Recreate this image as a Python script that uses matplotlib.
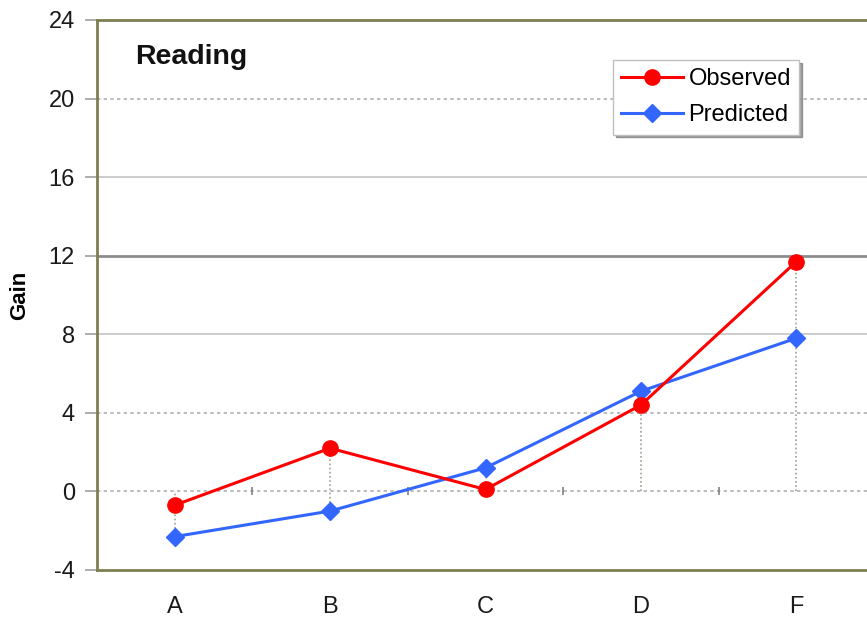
import numpy as np
import matplotlib
matplotlib.use("Agg")
import matplotlib.pyplot as plt
from matplotlib.transforms import IdentityTransform

plt.rcParams['font.family'] = ['Liberation Sans', 'DejaVu Sans']

# Data
categories = ["A", "B", "C", "D", "F"]
observed = [-0.7, 2.2, 0.1, 4.4, 11.7]
predicted = [-2.3, -1.0, 1.2, 5.1, 7.8]
y_ticks = [-4, 0, 4, 8, 12, 16, 20, 24]

W, H = 867, 622
fig = plt.figure(figsize=(W / 100, H / 100), dpi=100)
left_px, right_px, top_px, bottom_px = 97, 874, 20, 570
ax_w = right_px - left_px
ax_h = bottom_px - top_px
ax = fig.add_axes([left_px / W, 1 - bottom_px / H, ax_w / W, ax_h / H])

x = np.arange(len(categories))
ax.set_xlim(-0.5, len(categories) - 0.5)
ax.set_ylim(min(y_ticks), max(y_ticks))

olive = "#7f7f50"
for side in ("left", "top", "bottom"):
    ax.spines[side].set_color(olive)
    ax.spines[side].set_linewidth(2.0)
ax.spines["right"].set_visible(False)

# Horizontal gridlines
grid_style = {20: dict(color="#b0b0b0", lw=1.2, ls=(0, (2, 2))),
              16: dict(color="#c4c4c4", lw=1.2, ls="-"),
              12: dict(color="#8c8c8c", lw=2.0, ls="-"),
              8: dict(color="#c4c4c4", lw=1.2, ls="-"),
              4: dict(color="#b0b0b0", lw=1.2, ls=(0, (2, 2))),
              0: dict(color="#b0b0b0", lw=1.2, ls=(0, (2, 2)))}
for yv, st in grid_style.items():
    ax.axhline(yv, zorder=1, **st)

# Category tick marks on the zero line, between categories
mids = x[:-1] + 0.5
ax.plot(mids, [0] * len(mids), ls="none", marker="|", markersize=6,
        markeredgewidth=1.2, color="#808080", zorder=2)

# Drop lines from each point to the zero line
for xi, o, p in zip(x, observed, predicted):
    lo = min(o, p, 0)
    hi = max(o, p, 0)
    ax.vlines(xi, lo, hi, colors="#a0a090", linestyles=(0, (1, 1.5)),
              lw=1.2, zorder=2)

ax.plot(x, observed, color="#ff0000", lw=2.2, marker="o", markersize=11,
        zorder=4, label="Observed")
ax.plot(x, predicted, color="#3366ff", lw=2.2, marker="D", markersize=9,
        zorder=3, label="Predicted")

ax.set_yticks(y_ticks)
ax.set_yticklabels([str(v) for v in y_ticks])
ax.tick_params(axis="y", direction="out", length=9, width=1.2,
               color="#a0a0a0", labelsize=17, pad=7, labelcolor="#1a1a1a")
ax.set_xticks(x)
ax.set_xticklabels(categories)
ax.tick_params(axis="x", length=0, labelsize=17, pad=19, labelcolor="#1a1a1a")

ax.set_ylabel("Gain", fontsize=16, fontweight="bold")
ax.yaxis.set_label_coords((30 - left_px) / ax_w, 0.5)

title = ax.text(135, H - 57, "Reading", fontsize=20.5, fontweight="bold",
                va="center", ha="left", color="#111111")
title.set_transform(IdentityTransform())

leg = ax.legend(loc="upper left",
                bbox_to_anchor=((613 - left_px) / ax_w, 1 - (60 - top_px) / ax_h),
                fontsize=17, frameon=True, fancybox=False, shadow=True,
                borderpad=0.35, labelspacing=0.6, handlelength=2.6,
                handletextpad=0.25, borderaxespad=0)
leg.get_frame().set_edgecolor("#c0c0c0")
leg.get_frame().set_linewidth(1.0)

fig.savefig("out.png", dpi=100)
